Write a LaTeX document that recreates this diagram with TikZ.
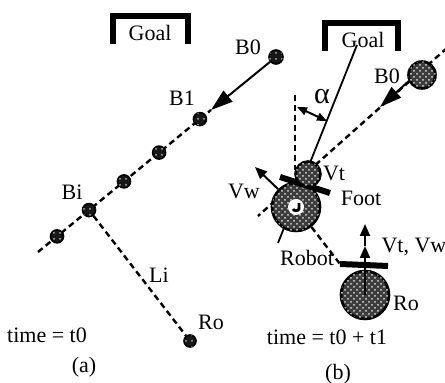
\documentclass[tikz,border=0pt]{standalone}
\usepackage{fontspec}
\setmainfont{Liberation Serif}
\usepackage{tikz}
\usetikzlibrary{arrows.meta,positioning,calc,patterns}
\definecolor{balldark}{HTML}{181818}
\definecolor{ballgray}{HTML}{3C3C3C}

\begin{document}
\begin{tikzpicture}[
  x=0.5pt, y=-0.5pt,
  font=\fontsize{11}{13}\selectfont,
  >={Triangle[length=6pt,width=5pt]},
  smallball/.style={
    circle,
    draw=black,
    fill=balldark,
    line width=0.8pt,
    inner sep=0pt,
    minimum size=6.5pt,
    postaction={pattern=dots, pattern color=white!70!black}
  },
  bigball/.style={
    circle,
    draw=black,
    fill=ballgray,
    line width=1.3pt,
    inner sep=0pt,
    postaction={pattern=crosshatch dots, pattern color=white!85!black}
  },
  pathline/.style={
    dash pattern=on 3pt off 2pt,
    line width=1.2pt
  },
  moveline/.style={
    ->,
    line width=1pt
  },
  bigarrow/.style={
    -{Triangle[length=11pt,width=7pt]},
    line width=1pt
  },
  goalbracket/.style={
    line width=3pt,
    line join=miter
  },
  footbar/.style={
    line width=3pt
  },
  txt/.style={
    inner sep=1pt
  }
]

  \useasboundingbox (0,0) rectangle (445,383);

  % -------------------------------------------------------------
  % PANEL (a): TIME = t0
  % -------------------------------------------------------------

  % Goal
  \node[txt] (goala) at (150,33) {Goal};
  \draw[goalbracket] (113,44) -- (113,16) -- (188,16) -- (188,44);

  % Ball path
  \coordinate (tailA) at (38,252);
  \coordinate (tipA) at (211,110);
  \draw[pathline] (tailA) -- (tipA);

  \node[smallball] (p1) at ($(tailA)!0.11!(tipA)$) {};
  \node[smallball] (bi) at ($(tailA)!0.295!(tipA)$) {};
  \node[smallball] (p3) at ($(tailA)!0.497!(tipA)$) {};
  \node[smallball] (p4) at ($(tailA)!0.70!(tipA)$) {};
  \node[smallball] (b1) at ($(tailA)!0.936!(tipA)$) {};
  \node[smallball, minimum size=7pt] (b0a) at (276,57) {};

  \draw[bigarrow] (b0a) -- (tipA);

  % Robot at t0
  \node[smallball, minimum size=6pt] (roa) at (190,341) {};
  \draw[pathline] (bi) -- (roa);

  % Labels
  \node[txt] at (248,47) {B0};
  \node[txt] at (182,98) {B1};
  \node[txt] at (72,192) {Bi};
  \node[txt] at (159,275) {Li};
  \node[txt] at (211,322) {Ro};
  \node[txt] at (47,335) {time = t0};
  \node[txt] at (84,367) {(a)};

  % -------------------------------------------------------------
  % PANEL (b): TIME = t0 + t1
  % -------------------------------------------------------------

  % Goal
  \node[txt] (goalb) at (363,40) {Goal};
  \draw[goalbracket] (325,51) -- (325,23) -- (398,23) -- (398,51);

  % Lines behind the balls
  \coordinate (tailB) at (447,48);
  \coordinate (headB) at (258,216);
  \coordinate (tipB) at (380,107);
  \draw[pathline] (tailB) -- (headB);

  \coordinate (aim) at (357,45);
  \coordinate (aimtail) at (278,243);
  \draw[line width=0.9pt] (aim) -- (aimtail);

  \coordinate (vtop) at (295,95);
  \draw[pathline] (vtop) -- (295,170);

  % Angle alpha
  \coordinate (aL) at (297,107);
  \coordinate (aR) at (327,121);
  \draw[<->, line width=1pt, >={Triangle[length=5pt,width=4pt]}] (aL) -- (aR);
  \node[txt, font=\fontsize{15}{15}\selectfont] at (322,97) {α};

  % Ball B0
  \node[bigball, minimum size=13.5pt] (b0b) at (422,75) {};
  \draw[bigarrow] (b0b.205) -- (tipB);

  % Robot
  \node[bigball, minimum size=24pt] (robot) at (296,207) {};
  \coordinate (vwtip) at (255,167);
  \draw[moveline] (robot.135) -- (vwtip);
  \node[circle, fill=white, inner sep=0pt, minimum size=8pt] (hole) at (robot.center) {};
  \draw[line width=1.4pt] ($(hole.center)+(3,-4)$) -- ($(hole.center)+(3,2)$)
    to[bend left=70] ($(hole.center)+(-3,2)$);
  \draw[footbar] (280,177) -- (330,193);
  \node[bigball, minimum size=12.5pt] (vt) at (308,174) {};

  % Robot goal posture
  \node[bigball, minimum size=24pt] (rob) at (365,295) {};
  \coordinate (barL) at (340,264);
  \coordinate (barR) at (388,266);
  \draw[footbar] (barL) -- (barR);
  \draw[pathline] (robot) -- (barL);
  \coordinate (rotip1) at (365,246);
  \coordinate (rotip2) at (365,224);
  \draw[moveline] (rob.center) -- (rotip1);
  \draw[moveline] (rotip1) -- (rotip2);

  % Labels
  \node[txt] at (387,76) {B0};
  \node[txt] at (334,173) {Vt};
  \node[txt] at (244,191) {Vw};
  \node[txt] at (361,198) {Foot};
  \node[txt] at (307,258) {Robot};
  \node[txt] at (414,247) {Vt, Vw};
  \node[txt] at (406,303) {Ro};
  \node[txt] at (327,337) {time = t0 + t1};
  \node[txt] at (338,374) {(b)};

\end{tikzpicture}
\end{document}
